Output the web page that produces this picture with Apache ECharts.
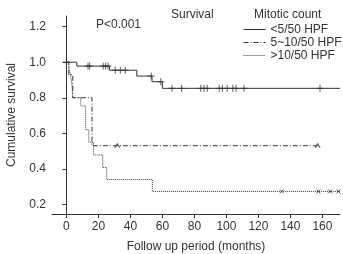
<!DOCTYPE html>
<html>
<head>
<meta charset="utf-8">
<script src="https://cdn.jsdelivr.net/npm/echarts@6/dist/echarts.min.js"></script>
<style>
  html, body { margin: 0; padding: 0; background: #fff; }
  #chart { width: 343px; height: 254px; }
</style>
</head>
<body>
<div id="chart"></div>
<script>
// tick labels
const xTicks = [0, 20, 40, 60, 80, 100, 120, 140, 160];
const yTicks = [0.2, 0.4, 0.6, 0.8, 1.0, 1.2];

// step curves: times (months) and survival
const lowT = [0, 6.5, 27, 44, 53.5, 60, 171];
const lowS = [1.0, 0.978, 0.955, 0.922, 0.89, 0.853, 0.853];
const midT = [0, 1.5, 4, 16, 157];
const midS = [1.0, 0.93, 0.8, 0.53, 0.53];
const highT = [0, 1.5, 2.5, 3.5, 4, 9, 12, 14, 17, 22.7, 25.2, 53.7, 171];
const highS = [1.0, 0.97, 0.93, 0.87, 0.8, 0.754, 0.62, 0.55, 0.478, 0.408, 0.34, 0.273, 0.273];

// censored times
const lowCens = [0, 13.5, 14.5, 23, 24.5, 26, 30.5, 33.7, 36.8, 53, 59, 66, 72, 84, 86, 88, 95.5, 97.5, 100.5, 104, 106, 111, 158.5];
const midCens = [31.8, 157];
const highCens = [134.6, 157.5, 164.8, 170];

const names = ['<5/50 HPF', '5~10/50 HPF', '>10/50 HPF'];

const ink = '#333';
const font = 'Liberation Sans, Arial, sans-serif';

function pts(t, s) {
  return t.map((v, i) => [v, s[i]]);
}
// survival value at time x from the step curve
function at(t, s, x) {
  let y = s[0];
  for (let i = 0; i < t.length; i++) {
    if (t[i] <= x) y = s[i];
  }
  return y;
}
function cens(t, s, c) {
  return c.map((x) => [x, at(t, s, x)]);
}

const plus = 'path://M0,-4L0,4M-4,0L4,0';
const caret = 'path://M-3,2L0,-2L3,2';
const cross = 'path://M-3,-3L3,3M-3,3L3,-3';

function stepLine(name, t, s, type) {
  return {
    name: name,
    type: 'line',
    step: 'end',
    data: pts(t, s),
    symbol: 'none',
    silent: true,
    lineStyle: { color: ink, width: 1, type: type },
    itemStyle: { color: ink },
  };
}
function marks(t, s, c, sym, size) {
  return {
    type: 'scatter',
    data: cens(t, s, c),
    symbol: sym,
    symbolSize: size,
    silent: true,
    itemStyle: { color: 'transparent', borderColor: ink, borderWidth: 1 },
  };
}

const chart = echarts.init(document.getElementById('chart'));
chart.setOption({
  animation: false,
  textStyle: { fontFamily: font },
  grid: { left: 52, right: 3, top: 16, bottom: 40, containLabel: false, outerBoundsMode: 'none' },
  legend: {
    data: names,
    orient: 'vertical',
    left: 238,
    top: 18,
    itemWidth: 22,
    itemHeight: 8,
    itemGap: 0,
    itemStyle: { opacity: 0 },
    lineStyle: { width: 1 },
    textStyle: { fontSize: 12, color: ink, fontFamily: font, lineHeight: 13 },
  },
  graphic: [
    { type: 'text', left: 96, top: 19, style: { text: 'P<0.001', fontSize: 12, fill: ink, fontFamily: font } },
    { type: 'text', left: 171, top: 9, style: { text: 'Survival', fontSize: 12, fill: ink, fontFamily: font } },
    { type: 'text', left: 254, top: 9, style: { text: 'Mitotic count', fontSize: 12, fill: ink, fontFamily: font } },
  ],
  xAxis: {
    type: 'value',
    min: -9,
    max: 171,
    name: 'Follow up period (months)',
    nameLocation: 'middle',
    nameGap: 27,
    nameTextStyle: { fontSize: 12, color: ink },
    splitLine: { show: false },
    axisLine: { lineStyle: { color: ink } },
    axisTick: { customValues: xTicks, length: 4, lineStyle: { color: ink } },
    axisLabel: { customValues: xTicks, fontSize: 12, color: ink, margin: 7 },
  },
  yAxis: {
    type: 'value',
    min: 0.146,
    max: 1.26,
    name: 'Cumulative survival',
    nameLocation: 'middle',
    nameGap: 34,
    nameTextStyle: { fontSize: 12, color: ink },
    splitLine: { show: false },
    axisLine: { show: true, lineStyle: { color: ink } },
    axisTick: { show: true, customValues: yTicks, length: 4, lineStyle: { color: ink } },
    axisLabel: {
      customValues: yTicks,
      fontSize: 12,
      color: ink,
      margin: 6,
      formatter: (v) => v.toFixed(1),
    },
  },
  series: [
    stepLine(names[0], lowT, lowS, 'solid'),
    stepLine(names[1], midT, midS, [5, 2, 1, 2]),
    stepLine(names[2], highT, highS, [1, 1]),
    marks(lowT, lowS, lowCens, plus, 7),
    marks(midT, midS, midCens, caret, [5, 4]),
    marks(highT, highS, highCens, cross, 4),
  ],
});
</script>
</body>
</html>
